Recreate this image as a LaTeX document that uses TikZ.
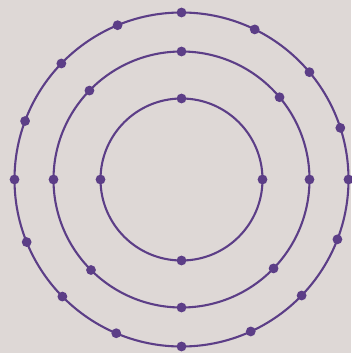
\documentclass[tikz,border=0pt]{standalone}
\begin{document}
\begin{tikzpicture}[x=1pt,y=-1pt,
  shell/.style={draw=ink,line width=2.1pt},
  dot/.style={fill=ink}]
\definecolor{ink}{RGB}{92,62,135}
\definecolor{paper}{RGB}{222,216,214}
\fill[paper] (0,0) rectangle (351,353);
\useasboundingbox (0,0) rectangle (351,353);
\begin{scope}[shift={(181.5,179.5)},y=1pt]
  \draw[shell] (0,0) circle (81);
  \draw[shell] (0,0) circle (128);
  \draw[shell] (0,0) circle (167);
  \foreach \a in {0,90,180,270} \fill[dot] (\a:81) circle (4.9);
  \foreach \a in {0,40,90,136,180,225,270,316} \fill[dot] (\a:128) circle (4.9);
  \foreach \a in {0,18,40,64,90,112.5,136,159.5,180,202,224.5,247,270,294.5,316,339} \fill[dot] (\a:167) circle (4.9);
\end{scope}
\end{tikzpicture}
\end{document}
